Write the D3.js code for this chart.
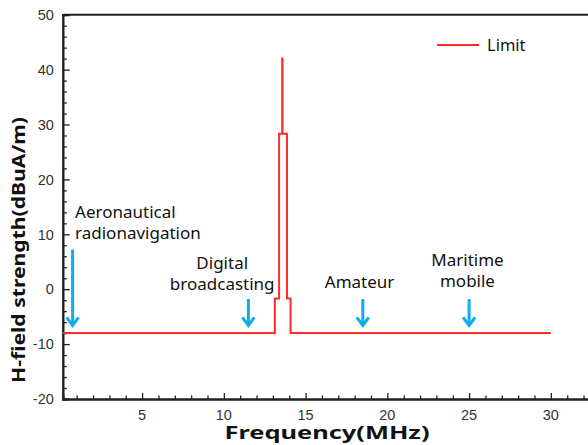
<!DOCTYPE html>
<html>
<head>
<meta charset="utf-8">
<script src="https://cdn.jsdelivr.net/npm/d3@7"></script>
<style>
  html, body { margin: 0; padding: 0; background: #fff; }
  svg { display: block; }
</style>
</head>
<body>
<svg id="chart" width="588" height="445"></svg>
<script>
// Limit mask (step function: each level holds from its frequency to the next)
const limitFreq  = [0.15, 13.12, 13.38, 13.57, 13.59, 13.86, 14.08, 30];
const limitLevel = [-8, -1.7, 28.3, 42, 28.3, -1.7, -8, -8];

// Services marked with arrows
const serviceNames = [["Aeronautical", "radionavigation"], ["Digital", "broadcasting"], ["Amateur"], ["Maritime", "mobile"]];
const serviceFreq  = [0.75, 11.5, 18.5, 25];
const arrowTop     = [7.2, -1.8, -1.8, -1.8];
const arrowTip     = -6.6;

// Tick labels
const xTickValues = [5, 10, 15, 20, 25, 30];
const yTickValues = [-20, -10, 0, 10, 20, 30, 40, 50];

const svg = d3.select("#chart");
const plotLeft = 62.8, plotTop = 14.7, plotBottom = 399;
const x = d3.scaleLinear().domain([0.15, 33]).range([plotLeft, plotLeft + 32.85 * 16.35]);
const y = d3.scaleLinear().domain([-20, 50]).range([plotBottom, plotTop]);

const axisColor = "#222";
const blue = "#12abeb";
const red = "#ff2a2a";

// Top frame line
svg.append("line").attr("x1", plotLeft).attr("x2", 588).attr("y1", plotTop).attr("y2", plotTop)
  .attr("stroke", axisColor).attr("stroke-width", 2);

// Y axis with inward ticks
const yAxis = d3.axisRight(y).tickValues(yTickValues).tickSize(7).tickFormat("");
const gy = svg.append("g").attr("transform", `translate(${plotLeft},0)`).call(yAxis);
const yMinor = d3.axisRight(y).tickValues(d3.range(-20, 51, 2).filter(v => v % 10 !== 0)).tickSize(4).tickFormat("");
const gym = svg.append("g").attr("transform", `translate(${plotLeft},0)`).call(yMinor);
[gy, gym].forEach(g => {
  g.select(".domain").attr("stroke", axisColor).attr("stroke-width", 2);
  g.selectAll(".tick line").attr("stroke", axisColor).attr("stroke-width", 1.3);
});
svg.append("g").selectAll("text").data(yTickValues).join("text")
  .attr("x", plotLeft - 9).attr("y", d => y(d)).attr("dy", "0.36em")
  .attr("text-anchor", "end")
  .attr("font-family", "'Liberation Sans', Arial, sans-serif").attr("font-size", 14.5)
  .attr("fill", "#333").text(d => d);

// X axis with inward ticks
const xAxis = d3.axisTop(x).tickValues(xTickValues.concat([35])).tickSize(6).tickFormat("");
const gx = svg.append("g").attr("transform", `translate(0,${plotBottom})`).call(xAxis);
const xMinor = d3.axisTop(x).tickValues(d3.range(1, 34).filter(v => v % 5 !== 0)).tickSize(3.5).tickFormat("");
const gxm = svg.append("g").attr("transform", `translate(0,${plotBottom})`).call(xMinor);
[gx, gxm].forEach(g => {
  g.select(".domain").attr("stroke", axisColor).attr("stroke-width", 2);
  g.selectAll(".tick line").attr("stroke", axisColor).attr("stroke-width", 1.3);
});
svg.append("g").selectAll("text").data(xTickValues).join("text")
  .attr("x", d => x(d)).attr("y", 419.5)
  .attr("text-anchor", "middle")
  .attr("font-family", "'Liberation Sans', Arial, sans-serif").attr("font-size", 14.5)
  .attr("fill", "#333").text(d => d);

// Axis titles
svg.append("text").attr("x", 327).attr("y", 439)
  .attr("text-anchor", "middle")
  .attr("font-family", "'Noto Sans', sans-serif").attr("font-weight", "bold").attr("font-size", 18.5)
  .attr("textLength", 205).attr("lengthAdjust", "spacingAndGlyphs")
  .attr("fill", "#111").text("Frequency(MHz)");
svg.append("text").attr("transform", "translate(24.5,250) rotate(-90)")
  .attr("text-anchor", "middle")
  .attr("font-family", "'Noto Sans', sans-serif").attr("font-weight", "bold").attr("font-size", 18.5)
  .attr("textLength", 266).attr("lengthAdjust", "spacingAndGlyphs")
  .attr("fill", "#111").text("H-field strength(dBuA/m)");

// Limit line
const limitData = limitFreq.map((f, i) => ({ f, v: limitLevel[i] }));
svg.append("path").datum(limitData)
  .attr("d", d3.line().x(d => x(d.f)).y(d => y(d.v)).curve(d3.curveStepAfter))
  .attr("fill", "none").attr("stroke", red).attr("stroke-width", 2);

// Service arrows
const arrows = svg.append("g").attr("stroke", blue).attr("stroke-width", 3).attr("fill", "none")
  .attr("stroke-linecap", "butt");
serviceFreq.forEach((f, i) => {
  const ax = x(f), y0 = y(arrowTop[i]), y1 = y(arrowTip);
  arrows.append("line").attr("x1", ax).attr("x2", ax).attr("y1", y0).attr("y2", y1 - 1);
  arrows.append("path").attr("d", `M${ax - 6},${y1 - 8}L${ax},${y1}L${ax + 6},${y1 - 8}`)
    .attr("stroke-linejoin", "miter");
});

// Service labels: anchor frequency / level of the first line
const labelAnchor = [
  { f: 0.9, v: 12.9, anchor: "start" },
  { f: 9.9, v: 3.6, anchor: "middle" },
  { f: 18.3, v: 0.3, anchor: "middle" },
  { f: 24.9, v: 4.2, anchor: "middle" }
];
serviceNames.forEach((lines, i) => {
  const a = labelAnchor[i];
  const t = svg.append("text")
    .attr("font-family", "'Noto Sans', sans-serif").attr("font-size", 17)
    .attr("fill", "#111").attr("text-anchor", a.anchor);
  lines.forEach((s, j) => {
    t.append("tspan").attr("x", x(a.f)).attr("y", y(a.v) + j * 20.7).text(s);
  });
});

// Legend
svg.append("line").attr("x1", 437).attr("x2", 479).attr("y1", 45).attr("y2", 45)
  .attr("stroke", red).attr("stroke-width", 2);
svg.append("text").attr("x", 487).attr("y", 50.5)
  .attr("font-family", "'Noto Sans', sans-serif").attr("font-size", 16.5)
  .attr("fill", "#111").text("Limit");
</script>
</body>
</html>
